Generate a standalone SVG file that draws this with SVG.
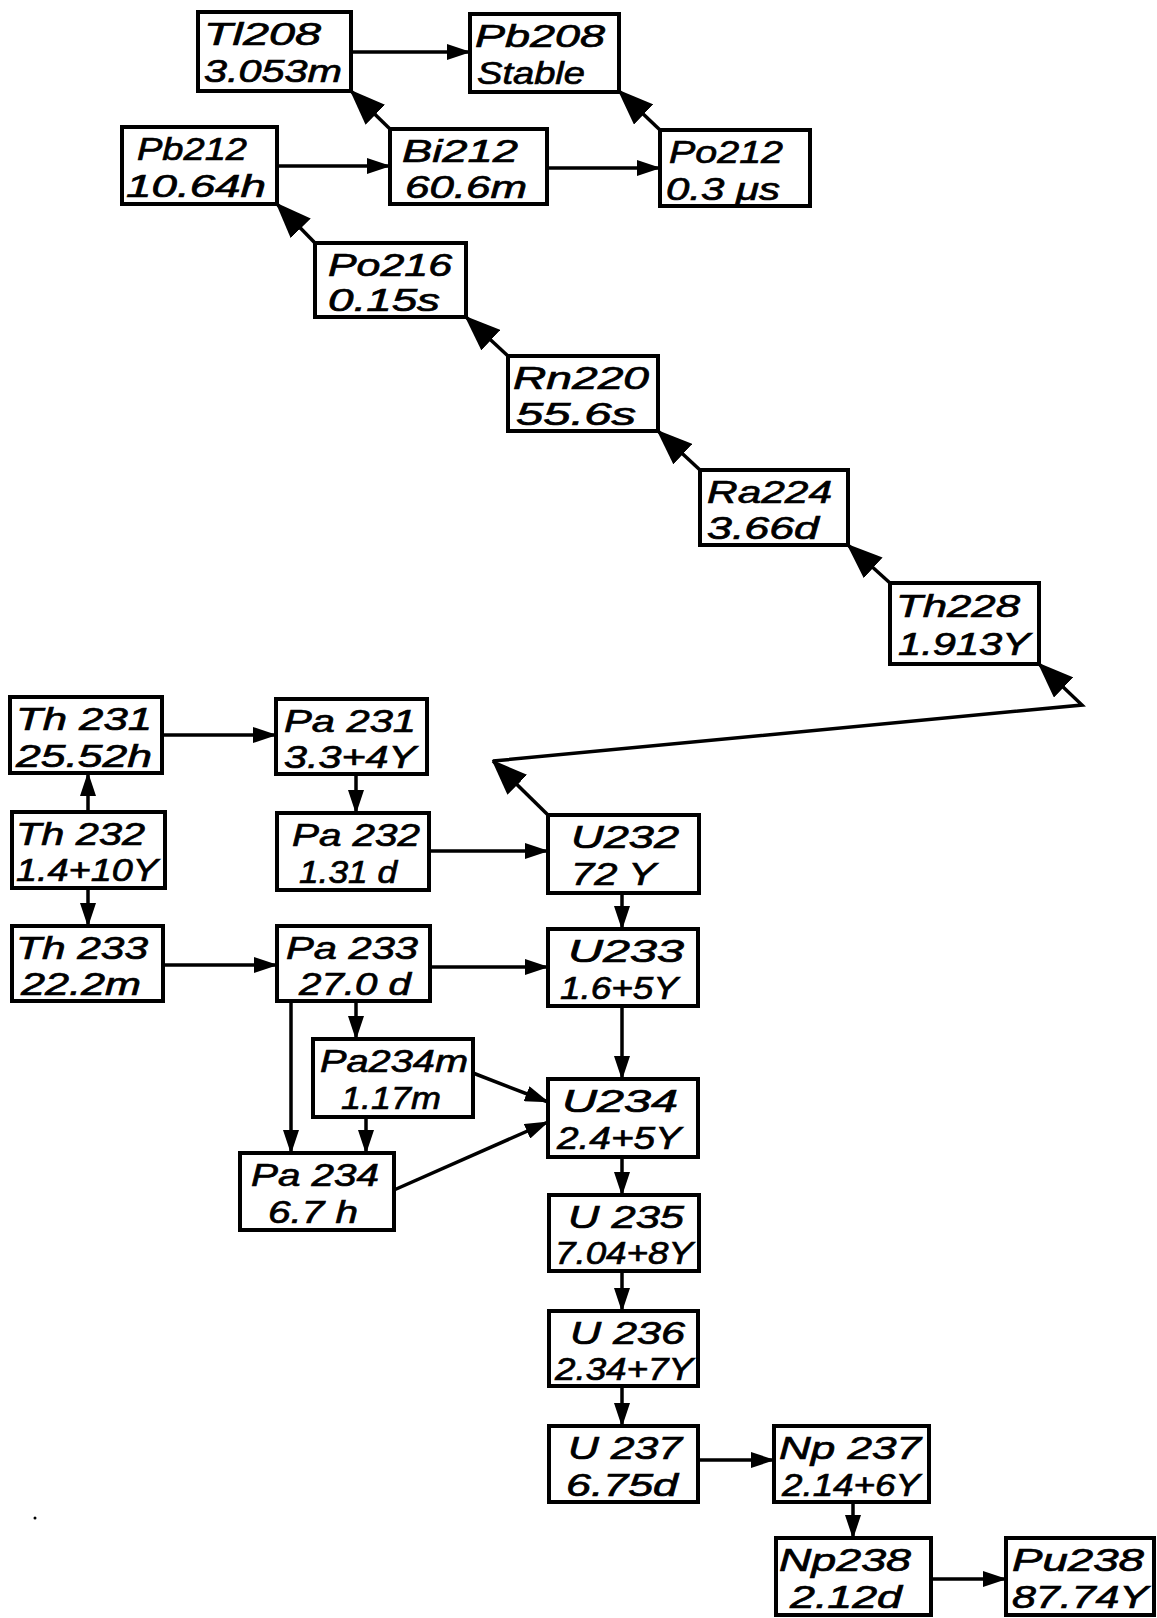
<svg xmlns="http://www.w3.org/2000/svg" width="1157" height="1618" viewBox="0 0 1157 1618">
<style>
.box rect{fill:#fff;stroke:#000;stroke-width:4}
.box text{font-family:"Liberation Sans",Arial,sans-serif;font-style:italic;font-size:32px;fill:#000;stroke:#000;stroke-width:0.7}
.c path{fill:none;stroke:#000;stroke-width:3.5}
.big{marker-end:url(#ab)}
.med{marker-end:url(#am)}
</style>
<defs>
<marker id="ab" markerUnits="userSpaceOnUse" markerWidth="36" markerHeight="28" viewBox="0 0 36 28" refX="34" refY="14" orient="auto"><path d="M0,0 L36,14 L0,28 z" fill="#000"/></marker>
<marker id="am" markerUnits="userSpaceOnUse" markerWidth="24" markerHeight="16" viewBox="0 0 24 16" refX="23" refY="8" orient="auto"><path d="M0,0 L24,8 L0,16 z" fill="#000"/></marker>
</defs>
<rect width="1157" height="1618" fill="#fff"/>
<g class="c" id="connectors">
<path class="med" d="M351,52 H470"/>
<path class="big" d="M390,129 L351,91"/>
<path class="big" d="M660,130 L619,91"/>
<path class="med" d="M277,166 H390"/>
<path class="med" d="M547,168 H660"/>
<path class="big" d="M315,243 L277,204"/>
<path class="big" d="M508,356 L466,317"/>
<path class="big" d="M700,470 L658,431"/>
<path class="big" d="M890,583 L848,545"/>
<path class="big" d="M548,815 L493,761"/>
<path class="big" d="M493,761 L1082,705 L1039,664"/>
<path class="med" d="M162,735 H276"/>
<path class="med" d="M88,812 V773"/>
<path class="med" d="M88,888 V926"/>
<path class="med" d="M356,774 V813"/>
<path class="med" d="M429,851 H548"/>
<path class="med" d="M622,893 V929"/>
<path class="med" d="M163,965 H277"/>
<path class="med" d="M430,967 H548"/>
<path class="med" d="M622,1006 V1079"/>
<path class="med" d="M356,1001 V1039"/>
<path class="med" d="M291,1001 V1153"/>
<path class="med" d="M473,1073 L548,1102"/>
<path class="med" d="M394,1190 L548,1122"/>
<path class="med" d="M366,1117 V1153"/>
<path class="med" d="M622,1157 V1195"/>
<path class="med" d="M622,1271 V1311"/>
<path class="med" d="M622,1386 V1426"/>
<path class="med" d="M698,1460 H774"/>
<path class="med" d="M853,1502 V1538"/>
<path class="med" d="M931,1579 H1006"/>
</g>
<g class="box" id="Tl208"><rect x="198" y="12" width="153" height="79"/><text x="204" y="45" textLength="117" lengthAdjust="spacingAndGlyphs">Tl208</text><text x="204" y="82" textLength="138" lengthAdjust="spacingAndGlyphs">3.053m</text></g>
<g class="box" id="Pb208"><rect x="470" y="14" width="149" height="78"/><text x="475" y="47" textLength="130" lengthAdjust="spacingAndGlyphs">Pb208</text><text x="477" y="84" textLength="108" lengthAdjust="spacingAndGlyphs">Stable</text></g>
<g class="box" id="Pb212"><rect x="122" y="127" width="155" height="77"/><text x="137" y="160" textLength="110" lengthAdjust="spacingAndGlyphs">Pb212</text><text x="126" y="197" textLength="140" lengthAdjust="spacingAndGlyphs">10.64h</text></g>
<g class="box" id="Bi212"><rect x="390" y="129" width="157" height="75"/><text x="402" y="162" textLength="116" lengthAdjust="spacingAndGlyphs">Bi212</text><text x="405" y="198" textLength="122" lengthAdjust="spacingAndGlyphs">60.6m</text></g>
<g class="box" id="Po212"><rect x="660" y="130" width="150" height="76"/><text x="669" y="163" textLength="114" lengthAdjust="spacingAndGlyphs">Po212</text><text x="666" y="200" textLength="114" lengthAdjust="spacingAndGlyphs">0.3 μs</text></g>
<g class="box" id="Po216"><rect x="315" y="243" width="151" height="74"/><text x="328" y="276" textLength="124" lengthAdjust="spacingAndGlyphs">Po216</text><text x="328" y="311" textLength="112" lengthAdjust="spacingAndGlyphs">0.15s</text></g>
<g class="box" id="Rn220"><rect x="508" y="356" width="150" height="75"/><text x="513" y="389" textLength="136" lengthAdjust="spacingAndGlyphs">Rn220</text><text x="516" y="425" textLength="120" lengthAdjust="spacingAndGlyphs">55.6s</text></g>
<g class="box" id="Ra224"><rect x="700" y="470" width="148" height="75"/><text x="707" y="503" textLength="125" lengthAdjust="spacingAndGlyphs">Ra224</text><text x="707" y="539" textLength="112" lengthAdjust="spacingAndGlyphs">3.66d</text></g>
<g class="box" id="Th228"><rect x="890" y="583" width="149" height="81"/><text x="896" y="617" textLength="124" lengthAdjust="spacingAndGlyphs">Th228</text><text x="898" y="655" textLength="132" lengthAdjust="spacingAndGlyphs">1.913Y</text></g>
<g class="box" id="Th231"><rect x="10" y="697" width="152" height="76"/><text x="16" y="730" textLength="136" lengthAdjust="spacingAndGlyphs">Th 231</text><text x="16" y="767" textLength="136" lengthAdjust="spacingAndGlyphs">25.52h</text></g>
<g class="box" id="Pa231"><rect x="276" y="699" width="151" height="75"/><text x="284" y="732" textLength="132" lengthAdjust="spacingAndGlyphs">Pa 231</text><text x="284" y="768" textLength="132" lengthAdjust="spacingAndGlyphs">3.3+4Y</text></g>
<g class="box" id="Th232"><rect x="12" y="812" width="153" height="76"/><text x="16" y="845" textLength="129" lengthAdjust="spacingAndGlyphs">Th 232</text><text x="16" y="881" textLength="142" lengthAdjust="spacingAndGlyphs">1.4+10Y</text></g>
<g class="box" id="Pa232"><rect x="277" y="813" width="152" height="77"/><text x="292" y="846" textLength="128" lengthAdjust="spacingAndGlyphs">Pa 232</text><text x="299" y="883" textLength="98" lengthAdjust="spacingAndGlyphs">1.31 d</text></g>
<g class="box" id="U232"><rect x="548" y="815" width="151" height="78"/><text x="571" y="848" textLength="108" lengthAdjust="spacingAndGlyphs">U232</text><text x="571" y="885" textLength="85" lengthAdjust="spacingAndGlyphs">72 Y</text></g>
<g class="box" id="Th233"><rect x="12" y="926" width="151" height="75"/><text x="16" y="959" textLength="132" lengthAdjust="spacingAndGlyphs">Th 233</text><text x="21" y="995" textLength="120" lengthAdjust="spacingAndGlyphs">22.2m</text></g>
<g class="box" id="Pa233"><rect x="277" y="926" width="153" height="75"/><text x="286" y="959" textLength="132" lengthAdjust="spacingAndGlyphs">Pa 233</text><text x="299" y="995" textLength="112" lengthAdjust="spacingAndGlyphs">27.0 d</text></g>
<g class="box" id="U233"><rect x="548" y="929" width="150" height="77"/><text x="568" y="962" textLength="116" lengthAdjust="spacingAndGlyphs">U233</text><text x="560" y="999" textLength="118" lengthAdjust="spacingAndGlyphs">1.6+5Y</text></g>
<g class="box" id="Pa234m"><rect x="313" y="1039" width="160" height="78"/><text x="320" y="1072" textLength="148" lengthAdjust="spacingAndGlyphs">Pa234m</text><text x="341" y="1109" textLength="100" lengthAdjust="spacingAndGlyphs">1.17m</text></g>
<g class="box" id="U234"><rect x="548" y="1079" width="150" height="78"/><text x="562" y="1112" textLength="116" lengthAdjust="spacingAndGlyphs">U234</text><text x="557" y="1149" textLength="124" lengthAdjust="spacingAndGlyphs">2.4+5Y</text></g>
<g class="box" id="Pa234"><rect x="240" y="1153" width="154" height="77"/><text x="251" y="1186" textLength="128" lengthAdjust="spacingAndGlyphs">Pa 234</text><text x="268" y="1223" textLength="90" lengthAdjust="spacingAndGlyphs">6.7 h</text></g>
<g class="box" id="U235"><rect x="549" y="1195" width="150" height="76"/><text x="568" y="1228" textLength="116" lengthAdjust="spacingAndGlyphs">U 235</text><text x="555" y="1264" textLength="138" lengthAdjust="spacingAndGlyphs">7.04+8Y</text></g>
<g class="box" id="U236"><rect x="549" y="1311" width="149" height="75"/><text x="570" y="1344" textLength="115" lengthAdjust="spacingAndGlyphs">U 236</text><text x="555" y="1380" textLength="138" lengthAdjust="spacingAndGlyphs">2.34+7Y</text></g>
<g class="box" id="U237"><rect x="549" y="1426" width="149" height="76"/><text x="568" y="1459" textLength="114" lengthAdjust="spacingAndGlyphs">U 237</text><text x="566" y="1496" textLength="112" lengthAdjust="spacingAndGlyphs">6.75d</text></g>
<g class="box" id="Np237"><rect x="774" y="1426" width="155" height="76"/><text x="779" y="1459" textLength="142" lengthAdjust="spacingAndGlyphs">Np 237</text><text x="782" y="1496" textLength="138" lengthAdjust="spacingAndGlyphs">2.14+6Y</text></g>
<g class="box" id="Np238"><rect x="776" y="1538" width="155" height="77"/><text x="779" y="1571" textLength="132" lengthAdjust="spacingAndGlyphs">Np238</text><text x="790" y="1608" textLength="112" lengthAdjust="spacingAndGlyphs">2.12d</text></g>
<g class="box" id="Pu238"><rect x="1006" y="1538" width="148" height="77"/><text x="1012" y="1571" textLength="132" lengthAdjust="spacingAndGlyphs">Pu238</text><text x="1012" y="1608" textLength="136" lengthAdjust="spacingAndGlyphs">87.74Y</text></g>
<circle cx="35" cy="1518" r="1.5" fill="#000"/>
</svg>
